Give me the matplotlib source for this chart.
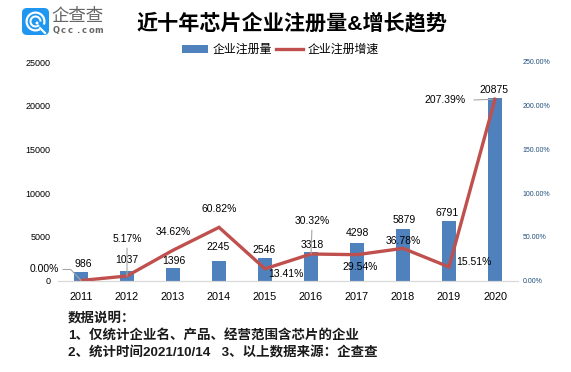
import matplotlib
matplotlib.use('Agg')
import matplotlib.pyplot as plt
from matplotlib.patches import FancyBboxPatch, Circle, Wedge

plt.rcParams['font.family'] = ['Liberation Sans', 'Noto Sans CJK SC', 'DejaVu Sans']

years = ['2011', '2012', '2013', '2014', '2015', '2016', '2017', '2018', '2019', '2020']
counts = [986, 1037, 1396, 2245, 2546, 3318, 4298, 5879, 6791, 20875]
growth = [0.00, 5.17, 34.62, 60.82, 13.41, 30.32, 29.54, 36.78, 15.51, 207.39]
left_ticks = [0, 5000, 10000, 15000, 20000, 25000]
right_ticks = [0, 50, 100, 150, 200, 250]
notes = ['数据说明：',
         '1、仅统计企业名、产品、经营范围含芯片的企业',
         '2、统计时间2021/10/14   3、以上数据来源：企查查']

# label offsets from the marks, in pixels
count_offsets = [(2, 8), (0, 11), (1, 7), (-1, 14), (-1, 8), (1, 7), (0, 9.5), (1, 9), (-2, 8), (-1, 8)]
growth_offsets = [(-37, 11), (0, 37), (0, 18), (0, 18), (21, -5), (1, 33), (3, -12), (0, 7), (25, 5), (-50, -1)]
W, H = 571, 372
fig = plt.figure(figsize=(W / 100, H / 100), dpi=100)
ax = fig.add_axes([58 / W, 1 - 280.5 / H, 460 / W, 218.5 / H])
ax2 = ax.twinx()

xs = list(range(len(years)))
bars = ax.bar(xs, counts, width=0.31, color='#4f81bd', label='企业注册量')
line, = ax2.plot(xs, growth, color='#c0504d', lw=2.4, solid_joinstyle='miter', label='企业注册增速')

ax.set_xlim(-0.5, 9.5)
ax.set_ylim(0, 25000)
ax2.set_ylim(0, 250)
ax.set_xticks(xs)
ax.set_xticklabels(years, fontsize=7.8)
ax.set_yticks(left_ticks)
ax.tick_params(axis='y', length=0, labelsize=6.5, pad=5.5)
ax.tick_params(axis='x', length=0, pad=8)
ax2.set_yticks(right_ticks)
ax2.set_yticklabels(['%.2f%%' % t for t in right_ticks], fontsize=5, color='#1f4e79')
ax2.tick_params(axis='y', length=0, pad=3.5)
for a in (ax, ax2):
    for s in ['top', 'left', 'right']:
        a.spines[s].set_visible(False)
    a.spines['bottom'].set_color('#d9d9d9')
ax2.set_zorder(ax.get_zorder() + 1)

for x, v, off in zip(xs, counts, count_offsets):
    ax2.annotate(str(v), (x, v / 100), xytext=off, textcoords='offset pixels',
                 ha='center', va='center', fontsize=7.5, color='black', zorder=6)

for i, (x, v, off) in enumerate(zip(xs, growth, growth_offsets)):
    arrow = None
    if i == 0:
        arrow = dict(arrowstyle='-', color='#a6a6a6', lw=0.8, shrinkA=1, shrinkB=0,
                     relpos=(1, 0.5), connectionstyle='angle,angleA=0,angleB=133,rad=0')
    elif i in (1, 5):
        arrow = dict(arrowstyle='-', color='#a6a6a6', lw=0.8, shrinkA=1, shrinkB=0, relpos=(0.5, 0))
    elif i == 9:
        arrow = dict(arrowstyle='-', color='#a6a6a6', lw=0.8, shrinkA=4, shrinkB=2, relpos=(1, 0.5))
    ax2.annotate('%.2f%%' % v, (x, v), xytext=off, textcoords='offset pixels',
                 ha='center', va='center', fontsize=7.5, color='black', zorder=6, arrowprops=arrow)

fig.legend([bars, line], ['企业注册量', '企业注册增速'], ncol=2, frameon=False, fontsize=8.6,
           loc='center', bbox_to_anchor=(280 / W, 1 - 50 / H), handlelength=2.25,
           handletextpad=0.35, columnspacing=0.35, borderpad=0, borderaxespad=0)

fig.text(292 / W, 1 - 23 / H, '近十年芯片企业注册量&增长趋势', fontsize=15.2, fontweight='bold',
         ha='center', va='center')

for t, y in zip(notes, [318, 336, 353]):
    fig.text(68 / W, 1 - y / H, t, fontsize=9.7, fontweight='bold', ha='left', va='center', color='#1a1a1a')

# logo
logo = fig.add_axes([0, 0, 1, 1], zorder=-1)
logo.set_xlim(0, W)
logo.set_ylim(H, 0)
logo.axis('off')
logo.add_patch(FancyBboxPatch((25, 11), 21, 21, boxstyle='round,pad=3,rounding_size=5', fc='#1f97f0', ec='none'))
logo.add_patch(Wedge((35.5, 21.5), 10, 60, 20, width=2.2, fc='white', ec='none'))
logo.add_patch(Wedge((35.5, 21.5), 6, 45, 0, width=2, fc='white', ec='none'))
logo.add_patch(Circle((37, 23), 1.5, fc='white', ec='none'))
logo.plot([40, 45], [28, 33], color='white', lw=1.5)
logo.text(77, 16, '企查查', fontsize=12.5, color='#666666', ha='center', va='center')
for i, c in enumerate('Qcc.com'):
    logo.text(56 + i * 7.1, 30.5, c, fontsize=6, fontweight='bold', color='#666666', ha='center', va='center',
              fontfamily='DejaVu Sans')

fig.savefig('out.png', dpi=100)
